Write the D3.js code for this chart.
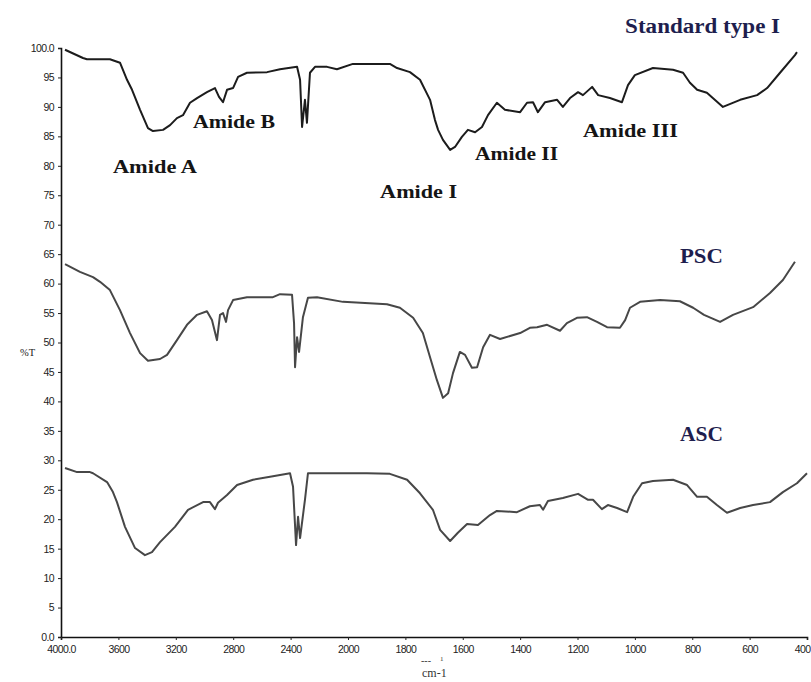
<!DOCTYPE html>
<html>
<head>
<meta charset="utf-8">
<script src="https://cdn.jsdelivr.net/npm/d3@7/dist/d3.min.js"></script>
<style>
  body { margin: 0; background: #fff; }
  svg { display: block; }
</style>
</head>
<body>
<svg id="chart" width="811" height="682"></svg>
<script>
// FTIR spectra: transmittance (%T) against wavenumber (cm-1)

// Standard collagen type I
const standardWn = [3972, 3847, 3819, 3659, 3589, 3540, 3505, 3449, 3394, 3359, 3289, 3240, 3192, 3150, 3101, 3052, 2983, 2927, 2899, 2871, 2843, 2801, 2766, 2704, 2564, 2474, 2355, 2334, 2320, 2300, 2286, 2265, 2230, 2146, 2077, 1983, 1854, 1829, 1784, 1749, 1714, 1697, 1686, 1669, 1644, 1627, 1603, 1582, 1557, 1533, 1512, 1481, 1453, 1400, 1376, 1355, 1338, 1313, 1271, 1251, 1226, 1198, 1181, 1149, 1128, 1087, 1045, 1024, 1000, 937, 867, 832, 808, 783, 749, 693, 633, 574, 539, 494, 442, 435];
const standardT  = [99.7, 98.3, 98.1, 98.1, 97.5, 94.6, 92.9, 89.5, 86.4, 85.9, 86.1, 86.9, 88.1, 88.6, 90.7, 91.5, 92.5, 93.2, 91.7, 90.8, 92.9, 93.2, 95.1, 95.8, 95.9, 96.4, 96.8, 94.6, 86.6, 91.2, 87.3, 95.8, 96.8, 96.8, 96.4, 97.3, 97.3, 96.6, 95.9, 94.6, 91.2, 87.8, 86.1, 84.4, 82.7, 83.2, 84.9, 86.1, 85.7, 86.6, 88.6, 90.7, 89.5, 89.1, 90.7, 90.8, 89.1, 90.8, 91.2, 90.0, 91.5, 92.5, 92.0, 93.4, 92.0, 91.5, 90.8, 93.7, 95.4, 96.6, 96.3, 95.8, 94.1, 92.9, 92.4, 90.0, 91.2, 92.0, 93.2, 95.8, 98.8, 99.3];

// Pepsin-soluble collagen (PSC)
const pscWn = [3972, 3868, 3777, 3728, 3659, 3589, 3519, 3449, 3394, 3310, 3261, 3192, 3122, 3052, 2983, 2948, 2913, 2892, 2871, 2850, 2836, 2801, 2704, 2523, 2474, 2390, 2376, 2369, 2355, 2341, 2314, 2279, 2216, 2035, 1864, 1819, 1773, 1739, 1714, 1690, 1669, 1651, 1634, 1610, 1592, 1568, 1550, 1529, 1505, 1470, 1400, 1366, 1341, 1306, 1261, 1237, 1202, 1167, 1132, 1097, 1052, 1034, 1017, 982, 912, 843, 797, 759, 703, 658, 588, 529, 484, 442];
const pscT  = [63.3, 62.0, 61.1, 60.3, 58.9, 55.5, 51.6, 48.2, 46.9, 47.2, 47.9, 50.4, 53.0, 54.7, 55.3, 53.8, 50.4, 54.7, 55.0, 53.5, 55.5, 57.2, 57.7, 57.7, 58.2, 58.1, 53.3, 45.8, 50.9, 48.4, 54.3, 57.6, 57.7, 56.9, 56.5, 55.9, 54.2, 51.6, 47.5, 43.6, 40.6, 41.4, 44.8, 48.4, 47.9, 45.7, 45.8, 49.2, 51.3, 50.6, 51.6, 52.5, 52.6, 53.0, 52.0, 53.3, 54.2, 54.3, 53.5, 52.6, 52.5, 53.8, 55.9, 56.9, 57.2, 57.0, 55.9, 54.7, 53.5, 54.7, 56.0, 58.4, 60.6, 63.7];

// Acid-soluble collagen (ASC)
const ascWn = [3972, 3888, 3798, 3777, 3679, 3638, 3610, 3554, 3484, 3415, 3366, 3310, 3206, 3115, 3010, 2962, 2927, 2906, 2843, 2773, 2662, 2523, 2404, 2383, 2362, 2348, 2334, 2300, 2279, 2104, 1934, 1854, 1794, 1749, 1704, 1679, 1644, 1617, 1585, 1547, 1505, 1481, 1411, 1366, 1331, 1320, 1303, 1251, 1198, 1163, 1146, 1115, 1094, 1062, 1027, 1006, 975, 937, 867, 818, 783, 749, 714, 679, 633, 588, 529, 484, 435, 400];
const ascT  = [28.7, 28.0, 28.0, 27.8, 26.3, 24.6, 22.9, 18.7, 15.1, 13.9, 14.4, 16.1, 18.7, 21.6, 22.9, 22.9, 21.7, 22.8, 24.1, 25.8, 26.7, 27.3, 27.8, 25.5, 15.6, 20.4, 16.8, 23.3, 27.8, 27.8, 27.8, 27.7, 26.7, 24.4, 21.6, 18.2, 16.3, 17.7, 19.2, 19.0, 20.7, 21.4, 21.2, 22.2, 22.4, 21.6, 23.1, 23.6, 24.3, 23.3, 23.3, 21.7, 22.4, 21.9, 21.2, 23.8, 26.1, 26.5, 26.7, 25.8, 23.8, 23.8, 22.4, 21.1, 21.9, 22.4, 22.9, 24.6, 26.1, 27.8];

// Axis ticks
const xTicks = [4000, 3600, 3200, 2800, 2400, 2000, 1800, 1600, 1400, 1200, 1000, 800, 600, 400];
const yTicks = [0, 5, 10, 15, 20, 25, 30, 35, 40, 45, 50, 55, 60, 65, 70, 75, 80, 85, 90, 95, 100];

// Band and sample annotations (wavenumber, %T at text start / baseline)
const bandLabels = ["Amide A", "Amide B", "Amide I", "Amide II", "Amide III"];
const bandWn     = [3638, 3080, 1888, 1557, 1181];
const bandT      = [78.8, 86.4, 74.5, 81.0, 84.9];
const bandWidth  = [84, 82, 77, 83, 95];

const sampleLabels = ["Standard type I", "PSC", "ASC"];
const sampleWn     = [1034, 843, 843];
const sampleT      = [102.5, 63.5, 33.3];
const sampleWidth  = [155, 43, 43];

const svg = d3.select("#chart");

// The spectrometer's axis halves its scale below 2000 cm-1
const x = d3.scaleLinear().domain([4000, 2000, 400]).range([61, 348, 807]);
const y = d3.scaleLinear().domain([0, 100]).range([637, 48]);

const tickFont = "'Liberation Sans', Arial, sans-serif";

// Y axis
const yAxis = svg.append("g")
  .attr("transform", `translate(${x(4000)},0)`)
  .call(d3.axisLeft(y).tickValues(yTicks).tickSize(3).tickPadding(4)
    .tickFormat(d => (d === 0 || d === 100) ? d.toFixed(1) : String(d)));

// X axis
const xAxis = svg.append("g")
  .attr("transform", `translate(0,${y(0)})`)
  .call(d3.axisBottom(x).tickValues(xTicks).tickSize(3).tickPadding(6)
    .tickFormat(d => d === 4000 ? "4000.0" : String(d)));

[yAxis, xAxis].forEach(g => {
  g.select(".domain").attr("stroke", "#111").attr("stroke-width", 1.6);
  g.selectAll(".tick line").attr("stroke", "#222").attr("stroke-width", 1);
  g.selectAll(".tick text")
    .attr("fill", "#222")
    .style("font-family", tickFont)
    .style("font-size", "10.5px")
    .style("letter-spacing", "-0.6px");
});
// The last wavenumber label sits against the right edge
xAxis.selectAll(".tick text").filter(d => d === 400)
  .attr("text-anchor", "end").attr("dx", "3px");

// Axis titles
svg.append("text")
  .attr("x", 20).attr("y", 356)
  .style("font-family", "'Liberation Serif', 'Times New Roman', serif")
  .style("font-size", "10.5px")
  .attr("fill", "#222")
  .text("%T");

const unit = svg.append("g")
  .style("font-family", "'Liberation Serif', 'Times New Roman', serif")
  .attr("fill", "#333");
unit.append("text").attr("x", 421).attr("y", 664)
  .style("font-size", "10px").text("---");
unit.append("text").attr("x", 440).attr("y", 661)
  .style("font-size", "7px").text("1");
unit.append("text").attr("x", 422).attr("y", 677)
  .style("font-size", "12px").text("cm-1");

// Spectra
const line = d3.line().x(d => x(d[0])).y(d => y(d[1]));
const series = [
  { wn: standardWn, t: standardT, color: "#1c1c1c" },
  { wn: pscWn,      t: pscT,      color: "#474747" },
  { wn: ascWn,      t: ascT,      color: "#474747" }
];
series.forEach(s => {
  svg.append("path")
    .datum(s.wn.map((w, i) => [w, s.t[i]]))
    .attr("fill", "none")
    .attr("stroke", s.color)
    .attr("stroke-width", 2)
    .attr("stroke-linejoin", "round")
    .attr("d", line);
});

// Annotations
const serifBold = "'Liberation Serif', 'Times New Roman', serif";
bandLabels.forEach((label, i) => {
  svg.append("text")
    .attr("x", x(bandWn[i])).attr("y", y(bandT[i]))
    .attr("textLength", bandWidth[i])
    .attr("lengthAdjust", "spacingAndGlyphs")
    .style("font-family", serifBold)
    .style("font-weight", "bold")
    .style("font-size", "19px")
    .attr("fill", "#151515")
    .text(label);
});
sampleLabels.forEach((label, i) => {
  svg.append("text")
    .attr("x", x(sampleWn[i])).attr("y", y(sampleT[i]))
    .attr("textLength", sampleWidth[i])
    .attr("lengthAdjust", "spacingAndGlyphs")
    .style("font-family", serifBold)
    .style("font-weight", "bold")
    .style("font-size", "20px")
    .attr("fill", "#1e1e4e")
    .text(label);
});
</script>
</body>
</html>
